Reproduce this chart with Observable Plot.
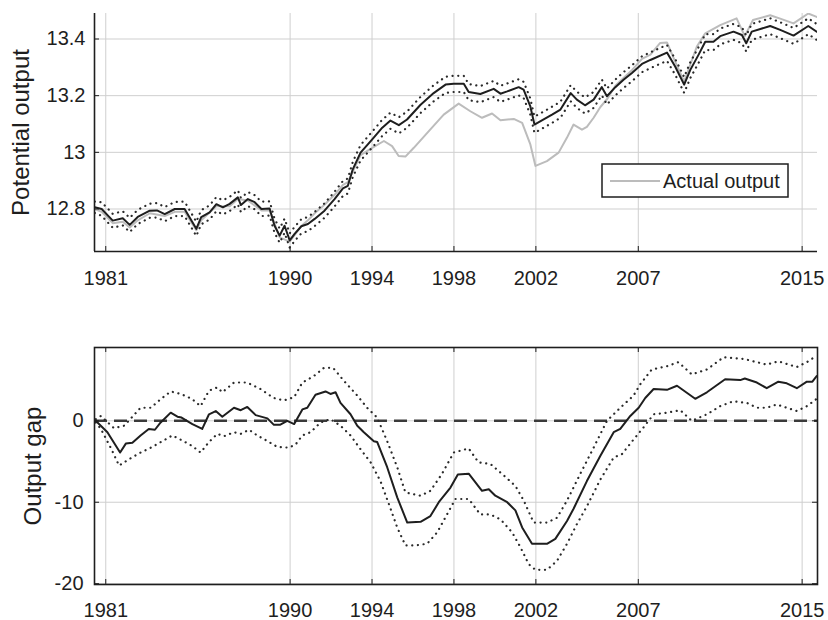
<!DOCTYPE html>
<html><head><meta charset="utf-8">
<script src="https://cdn.jsdelivr.net/npm/d3@7"></script>
<script src="https://cdn.jsdelivr.net/npm/@observablehq/plot@0.6"></script>
<style>
body{margin:0;background:#fff;}
#chart{width:828px;height:620px;}
#chart svg{display:block;}
</style></head><body><div id="chart"></div>
<script>
const yearTicks = [1981, 1990, 1994, 1998, 2002, 2007, 2015];
const potTicks = [12.8, 13, 13.2, 13.4];
const gapTicks = [-20, -10, 0];

const potYears = [1980.46,1980.8,1981.34,1981.83,1982.17,1982.56,1983.15,1983.5,1983.88,1984.37,1984.85,1985.42,1985.66,1986.07,1986.4,1986.72,1987.05,1987.45,1987.6,1987.94,1988.27,1988.6,1989.0,1989.24,1989.49,1989.73,1989.98,1990.22,1990.55,1990.87,1991.2,1991.68,1992.17,1992.58,1992.82,1993.06,1993.44,1994.01,1994.5,1994.9,1995.31,1995.71,1996.37,1997.01,1997.59,1997.99,1998.48,1998.72,1999.29,1999.94,2000.27,2000.6,2001.16,2001.4,2001.73,2001.93,2002.38,2002.79,2003.2,2003.7,2004.0,2004.4,2004.82,2005.22,2005.47,2005.88,2006.28,2006.69,2007.18,2007.59,2008.4,2008.8,2009.24,2009.54,2009.94,2010.27,2010.67,2011.0,2011.65,2012.06,2012.27,2012.54,2013.44,2013.93,2014.58,2015.3,2015.71];
const potValues = [12.806,12.800,12.759,12.767,12.744,12.772,12.794,12.795,12.782,12.800,12.800,12.730,12.771,12.788,12.817,12.806,12.818,12.841,12.814,12.835,12.824,12.800,12.802,12.741,12.706,12.741,12.689,12.712,12.739,12.747,12.765,12.794,12.835,12.873,12.882,12.940,12.999,13.046,13.087,13.112,13.096,13.116,13.168,13.209,13.239,13.242,13.242,13.213,13.206,13.224,13.207,13.215,13.230,13.221,13.162,13.098,13.116,13.133,13.151,13.209,13.186,13.166,13.186,13.230,13.198,13.230,13.256,13.280,13.312,13.326,13.352,13.303,13.239,13.291,13.344,13.390,13.390,13.410,13.426,13.414,13.385,13.426,13.446,13.432,13.412,13.446,13.426];
const potUpper = [12.826,12.824,12.783,12.792,12.769,12.797,12.819,12.821,12.807,12.825,12.826,12.755,12.796,12.813,12.842,12.831,12.843,12.866,12.839,12.860,12.849,12.826,12.827,12.766,12.731,12.766,12.714,12.737,12.764,12.772,12.790,12.820,12.861,12.899,12.908,12.966,13.026,13.073,13.115,13.140,13.124,13.144,13.196,13.237,13.267,13.270,13.270,13.241,13.234,13.252,13.235,13.243,13.258,13.249,13.190,13.126,13.144,13.161,13.179,13.237,13.214,13.194,13.213,13.257,13.225,13.257,13.283,13.307,13.339,13.353,13.379,13.330,13.266,13.318,13.371,13.417,13.417,13.437,13.453,13.441,13.412,13.453,13.473,13.459,13.439,13.473,13.453];
const potLower = [12.786,12.776,12.734,12.742,12.719,12.747,12.769,12.770,12.757,12.775,12.775,12.705,12.746,12.763,12.792,12.781,12.793,12.816,12.789,12.810,12.799,12.775,12.777,12.716,12.681,12.716,12.664,12.687,12.714,12.722,12.740,12.769,12.809,12.846,12.855,12.913,12.971,13.017,13.058,13.083,13.067,13.087,13.139,13.180,13.210,13.213,13.213,13.184,13.177,13.195,13.178,13.186,13.201,13.192,13.133,13.069,13.087,13.104,13.122,13.180,13.157,13.137,13.157,13.201,13.169,13.201,13.227,13.251,13.283,13.297,13.323,13.274,13.210,13.262,13.315,13.361,13.361,13.381,13.397,13.385,13.356,13.397,13.417,13.403,13.383,13.417,13.397];

const actYears = [1980.46,1980.8,1981.34,1981.83,1982.17,1982.56,1983.15,1983.88,1984.37,1984.85,1985.42,1985.66,1986.4,1987.05,1987.45,1987.94,1988.6,1989.0,1989.49,1989.98,1990.55,1990.87,1991.2,1991.68,1992.17,1992.58,1992.82,1993.44,1994.01,1994.58,1994.98,1995.3,1995.63,1996.04,1996.85,1997.5,1998.23,1998.8,1999.37,1999.86,2000.27,2000.92,2001.33,2001.73,2001.98,2002.54,2003.11,2003.52,2003.84,2004.25,2004.49,2004.82,2005.15,2005.5,2005.88,2006.28,2006.69,2007.18,2007.59,2008.07,2008.4,2008.8,2009.24,2009.54,2009.86,2010.27,2011.0,2011.8,2012.2,2012.6,2013.44,2014.0,2014.58,2015.3,2015.71];
const actValues = [12.80,12.79,12.75,12.755,12.735,12.76,12.785,12.775,12.79,12.79,12.725,12.76,12.81,12.81,12.835,12.83,12.795,12.795,12.70,12.685,12.74,12.76,12.785,12.815,12.85,12.885,12.895,12.99,13.016,13.04,13.022,12.987,12.985,13.016,13.081,13.133,13.172,13.145,13.122,13.137,13.113,13.118,13.104,13.028,12.952,12.969,12.999,13.052,13.098,13.08,13.09,13.122,13.16,13.19,13.235,13.262,13.29,13.33,13.345,13.386,13.388,13.32,13.25,13.31,13.373,13.42,13.449,13.473,13.41,13.467,13.484,13.47,13.455,13.49,13.478];

const gapYears = [1980.51,1981.08,1981.7,1981.98,1982.3,1982.7,1983.1,1983.4,1983.68,1983.93,1984.17,1984.5,1984.7,1985.23,1985.71,1986.04,1986.37,1986.69,1987.26,1987.59,1987.91,1988.32,1988.89,1989.21,1989.5,1989.86,1990.2,1990.6,1990.84,1991.24,1991.73,1991.97,1992.22,1992.46,1992.95,1993.28,1993.6,1994.09,1994.25,1994.74,1995.23,1995.72,1996.37,1996.85,1997.26,1997.83,1998.19,1998.72,1999.37,1999.7,2000.02,2000.6,2001.0,2001.33,2001.81,2002.54,2002.95,2003.52,2003.84,2004.49,2005.15,2005.8,2006.12,2006.61,2007.02,2007.34,2007.75,2008.4,2008.89,2009.78,2010.35,2011.24,2011.98,2012.2,2012.79,2013.27,2013.84,2014.25,2014.74,2015.23,2015.5,2015.71];
const gapValues = [0,-1.4,-3.9,-2.8,-2.7,-1.8,-1.0,-1.1,-0.2,0.4,1.0,0.5,0.4,-0.4,-1.0,0.8,1.2,0.5,1.6,1.3,1.7,0.7,0.3,-0.5,-0.5,0,-0.4,1.4,1.6,3.2,3.6,3.3,3.5,2.2,0.8,-0.6,-1.4,-2.5,-2.6,-5.7,-9.4,-12.5,-12.4,-11.7,-10.0,-8.2,-6.6,-6.5,-8.6,-8.4,-9.2,-10.0,-11.0,-13.1,-15.1,-15.1,-14.5,-12.3,-10.8,-7.4,-4.3,-1.4,-1.0,0.6,1.6,2.8,3.9,3.8,4.3,2.7,3.5,5.1,5.0,5.2,4.7,4.0,4.8,4.6,4.0,4.8,4.8,5.5];

const gapUpYears = [1980.51,1980.76,1981.4,1981.9,1982.7,1983.2,1983.7,1984.17,1984.66,1985.2,1985.63,1986.04,1986.45,1986.69,1987.26,1987.9,1988.56,1989.2,1989.7,1990.2,1990.6,1991.16,1991.65,1992.1,1992.63,1993.28,1993.76,1994.25,1994.74,1995.23,1995.63,1996.37,1996.85,1997.42,1997.99,1998.72,1999.2,1999.78,2000.43,2001.0,2001.41,2001.89,2002.54,2003.03,2003.52,2004.17,2004.82,2005.47,2006.12,2006.77,2007.1,2007.66,2008.4,2008.96,2009.61,2010.35,2011.16,2012.14,2013.27,2013.84,2014.74,2015.23,2015.71];
const gapUpper = [0.2,0.6,-0.9,-0.6,1.6,1.6,2.7,3.6,3.3,2.7,1.8,3.7,4.1,3.5,4.7,4.7,3.9,2.8,2.5,2.9,4.7,5.5,6.5,6.5,4.9,3.1,1.6,0.4,-2.5,-5.7,-8.8,-9.2,-8.6,-6.5,-3.9,-3.4,-5.1,-5.3,-6.7,-8.0,-9.8,-12.5,-12.5,-11.9,-9.8,-6.5,-3.3,0,1.6,3.1,4.5,6.3,6.7,7.2,5.7,6.3,7.8,7.6,6.9,7.3,6.6,7.2,8.0];

const gapLoYears = [1980.51,1980.76,1981.24,1981.65,1982.14,1982.7,1983.2,1983.76,1984.25,1984.8,1985.23,1985.63,1986.04,1986.45,1986.77,1987.26,1987.59,1988.0,1988.4,1988.9,1989.37,1989.94,1990.27,1990.6,1991.0,1991.49,1991.97,1992.46,1992.95,1993.44,1993.93,1994.41,1994.82,1995.23,1995.63,1996.1,1996.69,1997.18,1997.66,1998.07,1998.72,1999.29,1999.78,2000.27,2000.84,2001.24,2001.65,2001.98,2002.54,2003.03,2003.52,2004.0,2004.49,2005.15,2005.8,2006.2,2006.77,2007.26,2007.75,2008.4,2009.05,2009.61,2010.35,2011.0,2011.65,2012.3,2012.8,2013.27,2013.76,2014.25,2014.74,2015.23,2015.71];
const gapLower = [-0.2,-1.0,-3.3,-5.5,-4.7,-3.9,-3.3,-2.5,-1.8,-2.5,-3.1,-3.9,-2.6,-1.6,-1.9,-1.4,-1.6,-1.1,-1.8,-2.5,-3.2,-3.3,-2.9,-1.8,-1.4,-0.2,0.2,-0.6,-1.8,-3.5,-5.1,-7.4,-10.2,-13.1,-15.3,-15.3,-15.1,-13.7,-11.5,-9.6,-9.6,-11.5,-11.5,-12.1,-13.7,-15.5,-17.6,-18.3,-18.3,-17.2,-15.1,-12.7,-10.5,-7.2,-4.5,-4.1,-2.3,-0.8,0.8,1.0,1.3,0,0.8,1.8,2.4,2.2,1.6,1.6,2.0,1.6,1.2,1.8,2.7];

const legendLabel = "Actual output";

// ---- layout ----
const W = 828, ML = 94, MR = 11;
const xDomain = [1980.45, 2015.75];
const potDomain = [12.65, 13.49];
const gapDomain = [-20.1, 9];
const font = "'Liberation Sans', Arial, Helvetica, sans-serif";
const ink = "#1e1e1e";
const gridColor = "#cfcfcf";
const dotStyle = {stroke: "#2a2a2a", strokeWidth: 2.2, strokeDasharray: "0.1,5.6", strokeLinecap: "round", clip: true};
const rows = (xs, ys) => xs.map((x, i) => ({x, y: ys[i]}));
const plotW = W - ML - MR;

// ---- top panel ----
const T = {h: 300, mt: 13, mb: 49};
const tInner = T.h - T.mt - T.mb;
const topPlot = Plot.plot({
  width: W, height: T.h, marginLeft: ML, marginRight: MR, marginTop: T.mt, marginBottom: T.mb,
  style: {fontFamily: font, fontSize: "20px", color: ink, background: "white"},
  x: {domain: xDomain},
  y: {domain: potDomain},
  marks: [
    Plot.gridX(yearTicks, {stroke: gridColor, strokeOpacity: 1}),
    Plot.gridY(potTicks, {stroke: gridColor, strokeOpacity: 1}),
    Plot.line(rows(actYears, actValues), {x: "x", y: "y", stroke: "#bcbcbc", strokeWidth: 2, clip: true}),
    Plot.line(rows(potYears, potUpper), {x: "x", y: "y", ...dotStyle}),
    Plot.line(rows(potYears, potLower), {x: "x", y: "y", ...dotStyle}),
    Plot.line(rows(potYears, potValues), {x: "x", y: "y", stroke: ink, strokeWidth: 2, clip: true}),
    Plot.ruleX([xDomain[0]], {stroke: ink, strokeWidth: 1.6}),
    Plot.ruleY([potDomain[0]], {stroke: ink, strokeWidth: 1.6}),
    Plot.tickX(yearTicks, {x: d => d, insetTop: tInner - 5, stroke: ink}),
    Plot.tickY(potTicks, {y: d => d, insetRight: plotW - 5, stroke: ink}),
    Plot.axisX(yearTicks, {tickSize: 0, tickPadding: 19, tickFormat: d => String(d), label: null, fontSize: 20}),
    Plot.axisY(potTicks, {tickSize: 0, tickPadding: 9, tickFormat: d => String(d), label: null, fontSize: 20}),
    Plot.axisY([], {label: "Potential output", labelAnchor: "center", labelOffset: 83, labelArrow: "none", fontSize: 24, tickSize: 0})
  ]
});

// ---- bottom panel ----
const B = {h: 320, mt: 47, mb: 36};
const bInner = B.h - B.mt - B.mb;
const bottomPlot = Plot.plot({
  width: W, height: B.h, marginLeft: ML, marginRight: MR, marginTop: B.mt, marginBottom: B.mb,
  style: {fontFamily: font, fontSize: "20px", color: ink, background: "white"},
  x: {domain: xDomain},
  y: {domain: gapDomain},
  marks: [
    Plot.gridX(yearTicks, {stroke: gridColor, strokeOpacity: 1}),
    Plot.gridY(gapTicks, {stroke: gridColor, strokeOpacity: 1}),
    Plot.ruleY([0], {stroke: "#3a3a3a", strokeWidth: 2.5, strokeDasharray: "13,7"}),
    Plot.line(rows(gapUpYears, gapUpper), {x: "x", y: "y", ...dotStyle}),
    Plot.line(rows(gapLoYears, gapLower), {x: "x", y: "y", ...dotStyle}),
    Plot.line(rows(gapYears, gapValues), {x: "x", y: "y", stroke: ink, strokeWidth: 2, clip: true}),
    Plot.frame({stroke: ink, strokeWidth: 1.6}),
    Plot.tickX(yearTicks, {x: d => d, insetTop: bInner - 5, stroke: ink}),
    Plot.tickX(yearTicks, {x: d => d, insetBottom: bInner - 5, stroke: ink}),
    Plot.tickY(gapTicks, {y: d => d, insetRight: plotW - 5, stroke: ink}),
    Plot.tickY(gapTicks, {y: d => d, insetLeft: plotW - 5, stroke: ink}),
    Plot.axisX(yearTicks, {tickSize: 0, tickPadding: 18, tickFormat: d => String(d), label: null, fontSize: 20}),
    Plot.axisY(gapTicks, {tickSize: 0, tickPadding: 11, tickFormat: d => String(d), label: null, fontSize: 20}),
    Plot.axisY([], {label: "Output gap", labelAnchor: "center", labelOffset: 71, labelArrow: "none", fontSize: 24, tickSize: 0})
  ]
});

const chart = document.getElementById("chart");
chart.appendChild(topPlot);
chart.appendChild(bottomPlot);

// legend inside the top panel
const lg = d3.select(topPlot).append("g").attr("font-family", font).attr("text-anchor", "start");
lg.append("rect").attr("x", 602).attr("y", 164).attr("width", 186).attr("height", 33)
  .attr("fill", "white").attr("stroke", ink).attr("stroke-width", 1.5);
lg.append("line").attr("x1", 610).attr("x2", 660).attr("y1", 181).attr("y2", 181)
  .attr("stroke", "#bcbcbc").attr("stroke-width", 2);
lg.append("text").attr("x", 663).attr("y", 181).attr("dy", "0.35em").attr("text-anchor", "start")
  .attr("font-size", 20).attr("fill", ink).text(legendLabel);
</script>
</body></html>
